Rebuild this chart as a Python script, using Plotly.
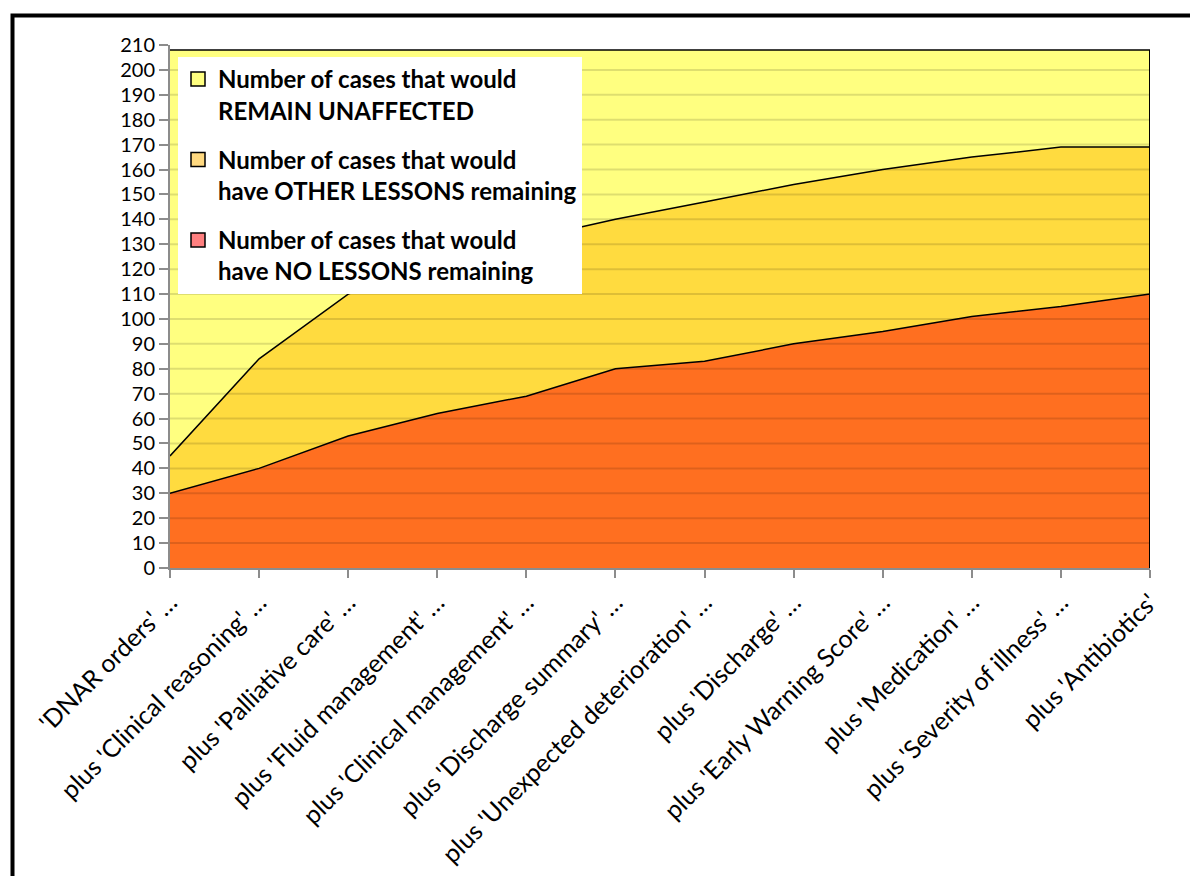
import plotly.graph_objects as go

categories = [
    "'DNAR orders' …",
    "plus 'Clinical reasoning' …",
    "plus 'Palliative care' …",
    "plus 'Fluid management' …",
    "plus 'Clinical management' …",
    "plus 'Discharge summary' …",
    "plus 'Unexpected deterioration' …",
    "plus 'Discharge' …",
    "plus 'Early Warning Score' …",
    "plus 'Medication' …",
    "plus 'Severity of illness' …",
    "plus 'Antibiotics'",
]
no_lessons = [30, 40, 53, 62, 69, 80, 83, 90, 95, 101, 105, 110]
other_lessons = [15, 44, 57, 60, 63, 60, 64, 64, 65, 64, 64, 59]
unaffected = [163, 124, 98, 86, 76, 68, 61, 54, 48, 43, 39, 39]
y_ticks = list(range(0, 211, 10))

names = [
    "Number of cases that would<br>have NO LESSONS remaining",
    "Number of cases that would<br>have OTHER LESSONS remaining",
    "Number of cases that would<br>REMAIN UNAFFECTED",
]
fill_colors = ["#FF6F20", "#FFDB3F", "#FFFF80"]
legend_colors = ["#FF8080", "#FFD980", "#FFFF80"]

FONT = "Lato"
fig = go.Figure()
for vals, col in zip([no_lessons, other_lessons, unaffected], fill_colors):
    fig.add_trace(go.Scatter(
        x=categories, y=vals, stackgroup="s", mode="lines",
        line=dict(color="black", width=1.5), fillcolor=col,
        showlegend=False, hoverinfo="skip",
    ))
# legend entries (reverse order: top series first)
for i, (name, col) in enumerate(reversed(list(zip(names, legend_colors)))):
    fig.add_trace(go.Scatter(
        x=[None], y=[None], mode="markers", name=name, legendgroup=f"g{i}",
        marker=dict(symbol="square", size=14, color=col, line=dict(color="black", width=1.5)),
    ))

shapes = []
for t in y_ticks[1:-1]:
    shapes.append(dict(type="line", xref="paper", yref="y", x0=0, x1=1, y0=t, y1=t,
                       line=dict(color="rgba(0,0,0,0.13)", width=2), layer="above"))
totals = [a + b + c for a, b, c in zip(no_lessons, other_lessons, unaffected)]
shapes.append(dict(type="line", xref="x", yref="y", x0=len(categories) - 1, x1=len(categories) - 1,
                   y0=0, y1=totals[-1], line=dict(color="black", width=2), layer="above"))
# outer frame
shapes.append(dict(type="rect", xref="paper", yref="paper",
                   x0=(12.5 - 170) / 980, x1=(1200 - 170) / 980,
                   y0=(568 - 890) / 523, y1=(568 - 15.5) / 523,
                   line=dict(color="black", width=4), fillcolor="rgba(0,0,0,0)", layer="above"))

fig.update_layout(
    width=1190, height=876,
    margin=dict(l=170, r=40, t=45, b=308),
    paper_bgcolor="white", plot_bgcolor="white",
    font=dict(family=FONT, color="black"),
    showlegend=True,
    legend=dict(
        x=(178 - 170) / 980, y=(568 - 57) / 523, xanchor="left", yanchor="top",
        bgcolor="white", borderwidth=0, tracegroupgap=15, valign="top",
        font=dict(family=FONT, size=24, color="black", weight="bold"),
    ),
    shapes=shapes,
    xaxis=dict(
        type="category", range=[0, len(categories) - 1], automargin=False,
        showline=True, linecolor="#8C8C8C", linewidth=2,
        ticks="outside", ticklen=8, tickcolor="#8C8C8C", tickwidth=2,
        tickangle=-45, tickfont=dict(family=FONT, size=25, color="black"),
        showgrid=False, zeroline=False,
    ),
    yaxis=dict(
        range=[0, 210], tickvals=y_ticks, automargin=False,
        showline=True, linecolor="#8C8C8C", linewidth=2,
        ticks="outside", ticklen=9, tickcolor="#8C8C8C", tickwidth=2,
        tickfont=dict(family=FONT, size=20, color="black"),
        showgrid=True, gridcolor="#A0A0A0", gridwidth=2, zeroline=False,
    ),
)

fig.write_html("out.html")
